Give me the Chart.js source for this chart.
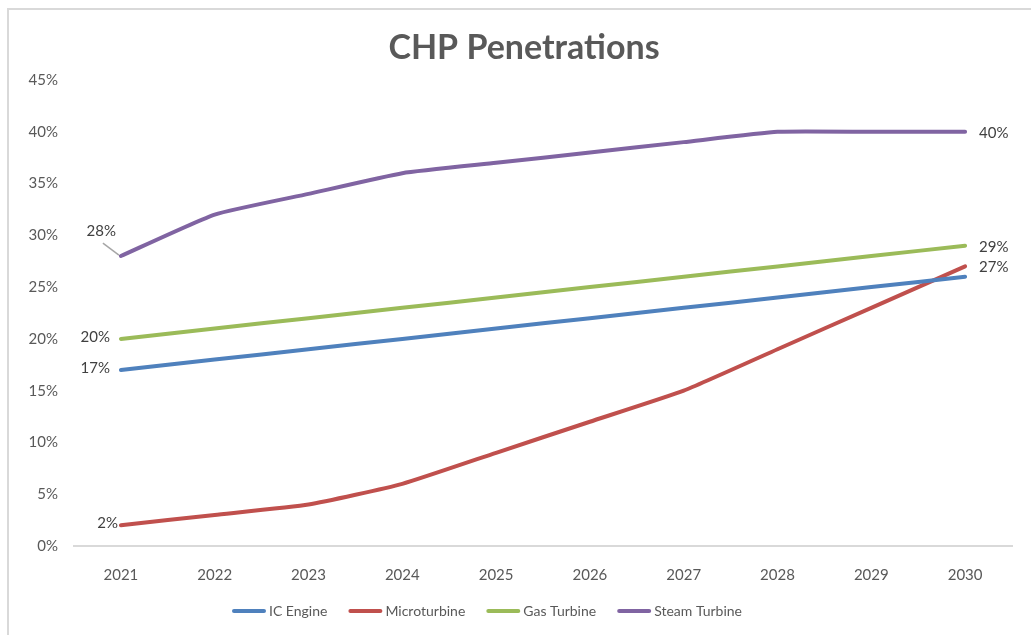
<!DOCTYPE html>
<html>
<head>
<meta charset="utf-8">
<script src="https://cdn.jsdelivr.net/npm/chart.js@4.4.1/dist/chart.umd.min.js"></script>
<style>
  html, body { margin: 0; padding: 0; background: #fff; overflow: hidden; }
  #frame { position: absolute; left: 7px; top: 8px; width: 1100px; height: 700px;
           border-left: 2px solid #d9d9d9; border-top: 2px solid #d9d9d9; }
  canvas { position: absolute; left: 0; top: 0; }
</style>
</head>
<body>
<div id="frame"></div>
<canvas id="chart" width="1031" height="635"></canvas>
<script>
const years = ['2021', '2022', '2023', '2024', '2025', '2026', '2027', '2028', '2029', '2030'];
const icEngine = [17, 18, 19, 20, 21, 22, 23, 24, 25, 26];
const microturbine = [2, 3, 4, 6, 9, 12, 15, 19, 23, 27];
const gasTurbine = [20, 21, 22, 23, 24, 25, 26, 27, 28, 29];
const steamTurbine = [28, 32, 34, 36, 37, 38, 39, 40, 40, 40];
const chartTitle = 'CHP Penetrations';

const FONT = 'Lato, "Open Sans", sans-serif';
const GRAY = '#595959';

// which points get a value label, and where (dx = gap from the point)
const labelSpots = [
    [{ i: 0, side: 'left', dx: 11 }],
    [{ i: 0, side: 'left', dx: 3 }, { i: 9, side: 'right' }],
    [{ i: 0, side: 'left', dx: 11 }, { i: 9, side: 'right' }],
    [{ i: 0, side: 'leader' }, { i: 9, side: 'right' }]
];

const pointLabels = {
    id: 'pointLabels',
    afterDatasetsDraw(chart) {
        const ctx = chart.ctx;
        ctx.save();
        ctx.font = '15px ' + FONT;
        ctx.fillStyle = '#404040';
        ctx.textBaseline = 'middle';
        chart.data.datasets.forEach((ds, d) => {
            const meta = chart.getDatasetMeta(d);
            labelSpots[d].forEach(s => {
                const p = meta.data[s.i];
                const txt = ds.data[s.i] + '%';
                if (s.side === 'left') {
                    ctx.textAlign = 'right';
                    ctx.fillText(txt, p.x - s.dx, p.y - 2);
                } else if (s.side === 'right') {
                    ctx.textAlign = 'left';
                    ctx.fillText(txt, p.x + 14, p.y + 1);
                } else {
                    ctx.strokeStyle = '#a6a6a6';
                    ctx.lineWidth = 1.5;
                    ctx.beginPath();
                    ctx.moveTo(p.x - 2, p.y - 1);
                    ctx.lineTo(p.x - 18, p.y - 13);
                    ctx.stroke();
                    ctx.textAlign = 'right';
                    ctx.fillText(txt, p.x - 5, p.y - 25);
                }
            });
        });
        ctx.restore();
    }
};

// title is placed by hand since Excel centres it slightly right of the canvas middle
const titleAndLegend = {
    id: 'titleAndLegend',
    afterDraw(chart) {
        const ctx = chart.ctx;
        ctx.save();
        ctx.font = 'bold 34px ' + FONT;
        ctx.fillStyle = GRAY;
        ctx.textAlign = 'center';
        ctx.textBaseline = 'alphabetic';
        ctx.fillText(chartTitle, 524, 59);

        ctx.font = '14px ' + FONT;
        ctx.textBaseline = 'middle';
        ctx.textAlign = 'left';
        const sw = 34, gapText = 3, gapItem = 21;
        const items = chart.data.datasets.map(ds => ({ ds, w: sw + gapText + ctx.measureText(ds.label).width }));
        const total = items.reduce((a, b) => a + b.w, 0) + gapItem * (items.length - 1);
        let x = 487 - total / 2;
        const y = 611;
        items.forEach(it => {
            ctx.strokeStyle = it.ds.borderColor;
            ctx.lineWidth = 4;
            ctx.lineCap = 'round';
            ctx.beginPath();
            ctx.moveTo(x + 2, y);
            ctx.lineTo(x + sw - 2, y);
            ctx.stroke();
            ctx.fillStyle = GRAY;
            ctx.fillText(it.ds.label, x + sw + gapText, y);
            x += it.w + gapItem;
        });
        ctx.restore();
    }
};

const mkSet = (label, data, color) => ({
    label, data,
    borderColor: color, backgroundColor: color,
    borderWidth: 4, pointRadius: 0, tension: 0.15,
    borderCapStyle: 'round', borderJoinStyle: 'round'
});

new Chart(document.getElementById('chart'), {
    type: 'line',
    data: {
        labels: years,
        datasets: [
            mkSet('IC Engine', icEngine, '#4f81bd'),
            mkSet('Microturbine', microturbine, '#c0504d'),
            mkSet('Gas Turbine', gasTurbine, '#9bbb59'),
            mkSet('Steam Turbine', steamTurbine, '#8064a2')
        ]
    },
    options: {
        responsive: false,
        animation: false,
        layout: { padding: { left: 0, right: 19, top: 80, bottom: 0 } },
        plugins: {
            legend: { display: false },
            tooltip: { enabled: false },
            title: { display: false }
        },
        scales: {
            x: {
                offset: true,
                grid: { display: false },
                border: { display: true, color: '#d9d9d9', width: 2 },
                ticks: { color: GRAY, font: { family: FONT, size: 15 }, padding: 12, maxRotation: 0 },
                afterFit: s => { s.height = 89; }
            },
            y: {
                min: 0, max: 45,
                grid: { display: false, drawTicks: false },
                border: { display: false },
                ticks: {
                    stepSize: 5,
                    color: GRAY,
                    font: { family: FONT, size: 15 },
                    padding: 16,
                    callback: v => v + '%'
                },
                afterFit: s => { s.width = 74; }
            }
        }
    },
    plugins: [pointLabels, titleAndLegend]
});
</script>
</body>
</html>
